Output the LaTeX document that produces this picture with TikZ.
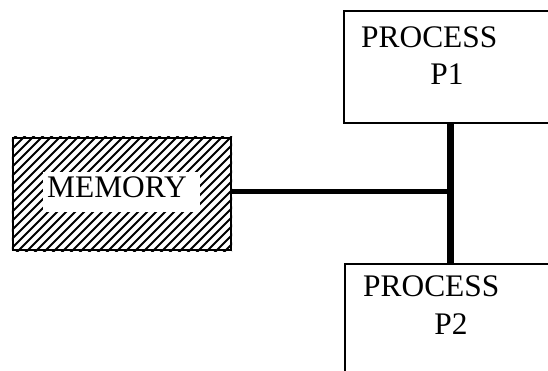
\documentclass[tikz,border=0pt]{standalone}
\usepackage{fontspec}
\setmainfont{Liberation Serif}

\tikzset{
  procbox/.style={draw, line width=1.8pt, rectangle, anchor=north west, inner sep=0pt},
  membox/.style={draw, line width=2.2pt, rectangle, inner sep=0pt},
  hatch/.style={line width=2pt},
  gap/.style={fill=white, rectangle, inner sep=0pt},
  label/.style={inner sep=0pt, font=\fontsize{31.4}{36}\selectfont},
  wire/.style={line width=5pt},
  bus/.style={line width=7pt}
}

\begin{document}
\begin{tikzpicture}[x=1pt, y=1pt]
    \useasboundingbox[fill=white] (0,0) rectangle (548,371);

    % process boxes (run off the right edge)
    \node[procbox, minimum width=230pt, minimum height=112pt] (p1) at (343,361) {};
    \node[procbox, minimum width=230pt, minimum height=130pt] (p2) at (344,108) {};
    \node[label, anchor=base west] (p1name) at (361,323) {PROCESS};
    \node[label, anchor=base] (p1id) at (447,286) {P1};
    \node[label, anchor=base west] (p2name) at (363,74) {PROCESS};
    \node[label, anchor=base] (p2id) at (451,36) {P2};

    % memory block, hatched
    \node[membox, minimum width=218pt, minimum height=112pt] (mem) at (122,177) {};
    \begin{scope}
      \clip (mem.south west) rectangle (mem.north east);
      \foreach \k in {-104,-95,...,240}
        \draw[hatch] (\k,115) -- ++(125,125);
    \end{scope}
    \node[membox, minimum width=218pt, minimum height=112pt] at (mem) {};
    \node[gap, minimum width=157pt, minimum height=40pt] (memgap) at (121.5,179) {};
    \node[label, anchor=base west] (memname) at (47,173) {MEMORY};

    % connections
    \coordinate (jn) at (450,179);
    \draw[wire] (mem.east |- jn) -- (jn);
    \draw[bus] (p1.south -| jn) -- (p2.north -| jn);
\end{tikzpicture}
\end{document}
